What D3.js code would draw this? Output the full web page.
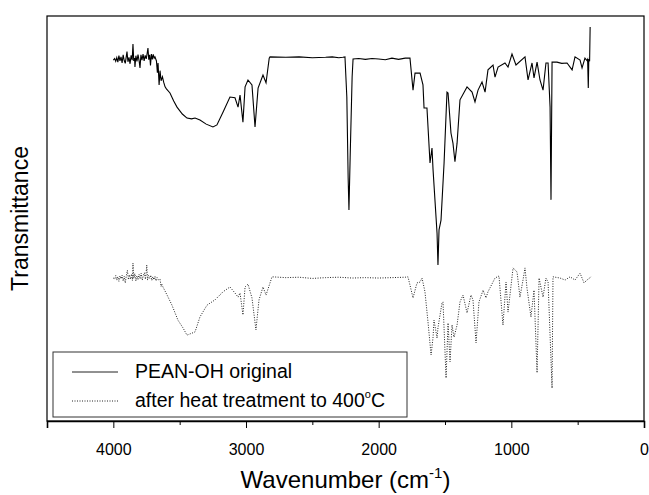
<!DOCTYPE html>
<html lang="en">

<head>
    <meta charset="UTF-8">
    <script src="https://d3js.org/d3.v7.min.js"></script>
    <title>IR spectra</title>
    <style>
        body { margin: 0; background: #fff; }
        text { font-family: "Liberation Sans", Arial, sans-serif; fill: #000; }
    </style>
</head>

<body>
    <script>
        // spectrum 1: PEAN-OH original (wavenumber, transmittance in arb. units)
        let originalWn = [4000, 3990, 3982, 3974, 3966, 3958, 3950, 3942, 3934, 3926, 3918, 3910, 3902, 3897, 3890, 3882,
            3874, 3866, 3858, 3852, 3846, 3840, 3837, 3830, 3822, 3814, 3806, 3799, 3792, 3784, 3776, 3768, 3760, 3752,
            3745, 3739, 3733, 3726, 3720, 3713, 3706, 3699, 3692, 3686, 3675, 3668, 3663, 3655, 3648, 3640, 3630, 3620,
            3610, 3600, 3573, 3545, 3520, 3480, 3445, 3410, 3384,
            3347, 3300, 3249, 3219, 3170, 3121, 3083, 3060, 3045, 3023, 3007, 2985, 2955, 2932, 2909, 2872, 2849, 2825,
            2819, 2700, 2600, 2500, 2400, 2350, 2300, 2270, 2254, 2240, 2230, 2224, 2215, 2200, 2193, 2150, 2100, 2050,
            2000, 1950, 1900, 1850, 1800, 1764, 1741, 1726, 1688, 1666, 1658, 1636, 1613, 1598, 1590, 1560, 1553, 1545,
            1530, 1507, 1485, 1477, 1455, 1440, 1425, 1409, 1387, 1334, 1296, 1274, 1251, 1221, 1198, 1176, 1138, 1123,
            1100, 1048, 1025, 995, 965, 897, 874, 844, 829, 806, 784, 761, 739, 723, 708, 701, 693, 656, 620, 580, 542,
            520, 482, 467, 445, 430, 425, 420, 416, 410, 406];
        let originalT = [89.1, 89.5, 88.8, 89.7, 88.6, 90.2, 88.9, 89.9, 88.4, 90.4, 89.0, 88.3, 90.1, 91.2, 88.7, 89.8,
            88.2, 90.3, 89.1, 93.1, 88.9, 89.6, 87.4, 90.2, 88.8, 90.5, 89.0, 87.2, 90.4, 89.1, 90.6, 88.9, 90.3, 89.4,
            90.8, 92.1, 89.2, 90.4, 87.8, 90.6, 89.3, 90.5, 89.6, 89.9, 88.9, 86.0, 88.4, 83.0, 86.5, 84.0, 85.0, 83.6,
            82.5, 82.0, 81.0, 79.0, 77.5, 75.8, 74.8, 74.6, 74.8,
            74.3, 73.3, 72.6, 73.1, 76.5, 80.0, 79.8, 77.5, 80.5, 73.8, 82.5, 84.2, 83.0, 72.6, 82.2, 85.4, 83.5, 89.6,
            89.9, 89.8, 89.9, 89.7, 89.8, 89.9, 89.7, 89.8, 89.9, 80.0, 60.0, 52.1, 65.0, 85.0, 89.4, 89.5, 89.3, 89.5,
            89.4, 89.2, 89.6, 89.3, 89.6, 89.6, 81.7, 85.9, 85.9, 83.0, 77.3, 77.3, 63.7, 67.4, 62.0, 46.4, 38.5, 47.2,
            49.6, 63.7, 81.2, 81.0, 71.1, 68.6, 64.0, 68.6, 79.3, 82.5, 81.2, 78.8, 81.7, 83.7, 81.2, 86.7, 87.9, 84.9,
            87.4, 88.4, 87.4, 90.6, 87.9, 89.9, 84.2, 88.4, 84.7, 88.6, 84.2, 81.7, 88.4, 88.4, 77.5, 54.6, 88.6, 88.6,
            88.3, 88.4, 86.7, 89.9, 89.1, 87.2, 89.6, 89.0, 89.3, 82.2, 89.4, 88.8, 97.3];

        // spectrum 2: after heat treatment to 400 C
        let heatedWn = [4000, 3990, 3982, 3974, 3966, 3958, 3950, 3942, 3934, 3926, 3918, 3910, 3902, 3894, 3886, 3878,
            3870, 3862, 3856, 3852, 3846, 3838, 3830, 3822, 3814, 3806, 3798, 3790, 3782, 3774, 3766, 3758, 3752, 3748,
            3742, 3735, 3726, 3718, 3710, 3702, 3694, 3686, 3678, 3670, 3660, 3648, 3640, 3635, 3626, 3595, 3558, 3513,
            3475, 3445, 3384, 3347, 3294, 3234, 3173,
            3121, 3083, 3060, 3045, 3023, 3007, 2985, 2955, 2925, 2902, 2872, 2849, 2804, 2700, 2600, 2500, 2400, 2300,
            2200, 2100, 2000, 1900, 1800, 1779, 1741, 1711, 1688, 1673, 1651, 1628, 1605, 1590, 1583, 1560, 1553, 1523,
            1515, 1492, 1477, 1462, 1447, 1432, 1409, 1387, 1364, 1334, 1304, 1289, 1266, 1244, 1213, 1191, 1176, 1123,
            1093, 1063, 1040, 1025, 987, 957, 935, 912, 897, 882, 852, 829, 806, 791, 761, 739, 723, 693, 686, 633, 595,
            557, 520, 482, 452, 430, 399];
        let heatedT = [35.3, 35.0, 35.9, 34.8, 35.6, 34.5, 35.8, 35.1, 36.0, 34.6, 35.7, 34.1, 35.9, 37.2, 34.9, 36.1,
            35.0, 36.3, 34.7, 39.0, 35.2, 36.4, 34.6, 35.8, 34.9, 36.2, 35.1, 36.5, 34.8, 35.9, 36.6, 35.0, 36.9, 38.5,
            34.8, 35.9, 35.2, 36.0, 34.7, 35.6, 34.9, 35.7, 34.6, 35.4, 34.8, 35.0, 33.2, 33.8, 33.1, 31.1, 28.6, 24.9,
            23.0, 21.2, 22.0, 25.7, 28.6, 29.9, 31.9,
            33.1, 31.6, 30.6, 31.6, 26.2, 33.1, 33.8, 30.4, 22.5, 29.9, 33.1, 31.1, 35.6, 35.4, 35.5, 35.2, 35.4, 35.5,
            35.3, 35.4, 35.3, 35.4, 35.5, 35.6, 30.4, 34.1, 34.3, 35.3, 31.9, 24.4, 16.3, 20.7, 24.9, 20.5, 23.0, 29.1,
            29.4, 10.6, 24.2, 14.6, 23.7, 20.7, 23.7, 29.4, 31.1, 26.7, 31.1, 29.9, 19.3, 29.4, 32.3, 30.4, 31.9, 35.3,
            35.8, 23.7, 34.3, 26.9, 37.8, 36.8, 30.6, 34.8, 37.8, 32.8, 25.7, 32.3, 11.9, 35.3, 30.6, 35.3, 34.3, 8.1,
            35.6, 35.3, 34.8, 35.6, 34.8, 36.5, 34.1, 34.8, 35.6];

        let majorTicks = [4000, 3000, 2000, 1000, 0];
        let minorTicks = [4500, 3500, 2500, 1500, 500];
        let legendNames = ["PEAN-OH original", "after heat treatment to 400"];

        let width = 649, height = 495;
        let plotLeft = 47, plotRight = 644, plotTop = 16, plotBottom = 421;

        let svg = d3.select("body").append("svg")
            .attr("width", width)
            .attr("height", height);

        let x = d3.scaleLinear().domain([4500, 0]).range([plotLeft, plotRight]);
        let y = d3.scaleLinear().domain([0, 100]).range([plotBottom, plotTop]);

        let line = d3.line()
            .x(d => x(d[0]))
            .y(d => y(d[1]));

        // spectra
        svg.append("path")
            .datum(d3.zip(originalWn, originalT))
            .attr("d", line)
            .attr("fill", "none")
            .attr("stroke", "#000")
            .attr("stroke-width", 1.1);

        svg.append("path")
            .datum(d3.zip(heatedWn, heatedT))
            .attr("d", line)
            .attr("fill", "none")
            .attr("stroke", "#222")
            .attr("stroke-width", 1)
            .attr("stroke-dasharray", "1,1.5");

        // frame
        svg.append("rect")
            .attr("x", plotLeft)
            .attr("y", plotTop)
            .attr("width", plotRight - plotLeft)
            .attr("height", plotBottom - plotTop)
            .attr("fill", "none")
            .attr("stroke", "#000")
            .attr("stroke-width", 1.2);

        // bottom axis, major + minor ticks
        let xAxis = svg.append("g")
            .attr("transform", "translate(0," + plotBottom + ")")
            .call(d3.axisBottom(x).tickValues(majorTicks).tickSize(7).tickPadding(16).tickFormat(d3.format("d")));
        xAxis.select(".domain").attr("stroke-width", 1.6);
        xAxis.selectAll("text").attr("font-size", 16).attr("font-family", null);

        svg.append("g")
            .attr("transform", "translate(0," + plotBottom + ")")
            .call(d3.axisBottom(x).tickValues(minorTicks).tickSize(4).tickFormat(""))
            .select(".domain").remove();

        // axis titles
        let xTitle = svg.append("text")
            .attr("x", (plotLeft + plotRight) / 2)
            .attr("y", 488)
            .attr("text-anchor", "middle")
            .attr("font-size", 24)
            .text("Wavenumber (cm");
        xTitle.append("tspan").attr("dy", -10).attr("font-size", 15).text("-1");
        xTitle.append("tspan").attr("dy", 10).text(")");

        svg.append("text")
            .attr("transform", "translate(28," + (plotTop + plotBottom) / 2 + ") rotate(-90)")
            .attr("text-anchor", "middle")
            .attr("font-size", 23)
            .text("Transmittance");

        // legend
        svg.append("rect")
            .attr("x", 53)
            .attr("y", 352)
            .attr("width", 354)
            .attr("height", 65)
            .attr("fill", "#fff")
            .attr("stroke", "#333")
            .attr("stroke-width", 1);

        let legendY = [372, 401];
        legendY.forEach((ly, i) => {
            svg.append("line")
                .attr("x1", 72)
                .attr("x2", 118)
                .attr("y1", ly)
                .attr("y2", ly)
                .attr("stroke", "#222")
                .attr("stroke-width", 1)
                .attr("stroke-dasharray", i == 1 ? "1,1.5" : null);
            let t = svg.append("text")
                .attr("x", 135)
                .attr("y", ly + 6)
                .attr("font-size", 19.5)
                .text(legendNames[i]);
            if (i == 1) {
                t.append("tspan").attr("dy", -9).attr("font-size", 11).text("o");
                t.append("tspan").attr("dy", 9).text("C");
            }
        });
    </script>
</body>

</html>
